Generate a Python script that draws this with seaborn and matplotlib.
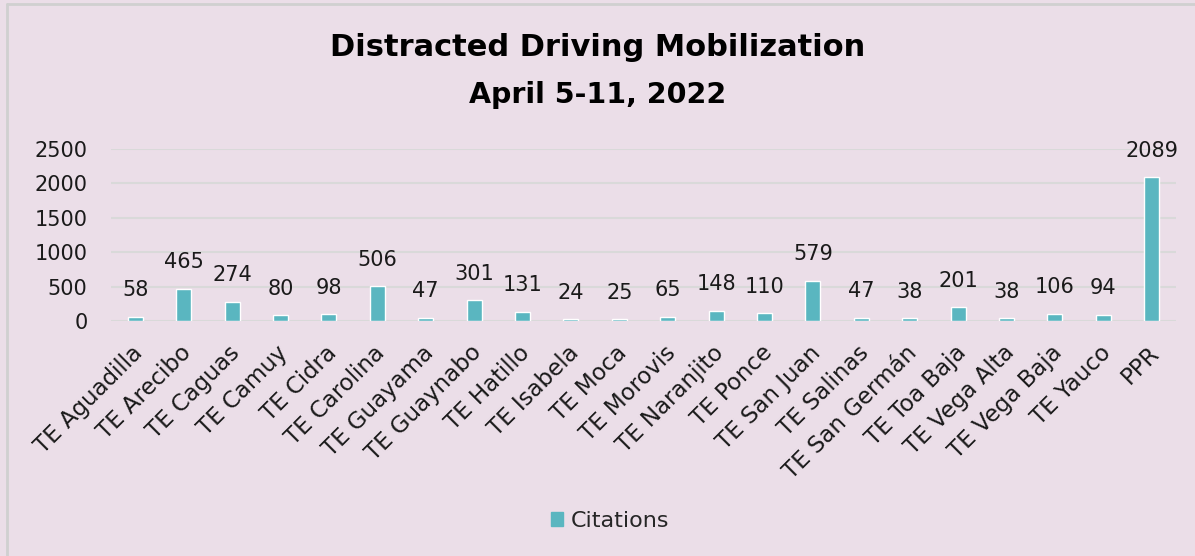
import matplotlib
matplotlib.use('Agg')
import matplotlib.pyplot as plt
import matplotlib.patches as mpatches
import matplotlib.transforms as mtrans
import pandas as pd
import seaborn as sns

# Citations per unit
units = ['TE Aguadilla', 'TE Arecibo', 'TE Caguas', 'TE Camuy', 'TE Cidra',
         'TE Carolina', 'TE Guayama', 'TE Guaynabo', 'TE Hatillo', 'TE Isabela',
         'TE Moca', 'TE Morovis', 'TE Naranjito', 'TE Ponce', 'TE San Juan',
         'TE Salinas', 'TE San Germán', 'TE Toa Baja', 'TE Vega Alta',
         'TE Vega Baja', 'TE Yauco', 'PPR']
citations = [58, 465, 274, 80, 98, 506, 47, 301, 131, 24, 25, 65, 148, 110,
             579, 47, 38, 201, 38, 106, 94, 2089]
y_ticks = [0, 500, 1000, 1500, 2000, 2500]

df = pd.DataFrame({'Unit': units, 'Citations': citations})

bg = '#EBDEE8'
bar_color = '#5AB6C0'
grid_color = '#D9D9D9'
txt = '#1a1a1a'

sns.set_theme(style='white')
plt.rcParams['font.family'] = ['DejaVu Sans']

fig = plt.figure(figsize=(11.95, 5.56), dpi=100, facecolor=bg)
ax = fig.add_axes([111 / 1195, 1 - 321 / 556, (1176 - 111) / 1195, (321 - 149) / 556])
ax.set_facecolor(bg)

sns.barplot(data=df, x='Unit', y='Citations', color=bar_color, width=0.31,
            saturation=1, ax=ax)

ax.bar_label(ax.containers[0], labels=[str(v) for v in citations],
             padding=12, fontsize=15, color=txt)

ax.set_ylim(0, 2500)
ax.set_yticks(y_ticks)
ax.set_yticklabels([str(t) for t in y_ticks], fontsize=15, color=txt)
ax.set_xlim(-0.5, len(units) - 0.5)
ax.set_xticks(range(len(units)))
ax.set_xticklabels(units, rotation=45, ha='right', rotation_mode='anchor',
                   fontsize=16.5, color=txt)
ax.tick_params(axis='both', length=0)
ax.tick_params(axis='y', pad=17)
ax.tick_params(axis='x', pad=8)
# nudge the category labels down/left like the original
shift = mtrans.ScaledTranslation(-4 / 100, -9 / 100, fig.dpi_scale_trans)
for lbl in ax.get_xticklabels():
    lbl.set_transform(lbl.get_transform() + shift)
ax.set_xlabel('')
ax.set_ylabel('')
for s in ax.spines.values():
    s.set_visible(False)
ax.yaxis.grid(True, color=grid_color, linewidth=1.5)
ax.set_axisbelow(True)

fig.text(0.5, 1 - 48 / 556, 'Distracted Driving Mobilization',
         ha='center', va='center', fontsize=22, fontweight='bold', color='black')
fig.text(0.5, 1 - 95 / 556, 'April 5-11, 2022',
         ha='center', va='center', fontsize=20.5, fontweight='bold', color='black')

handle = mpatches.Patch(color=bar_color, label='Citations')
fig.legend(handles=[handle], loc='center', bbox_to_anchor=(610 / 1195, 1 - 521 / 556),
           frameon=False, fontsize=16, handlelength=0.55, handleheight=0.55,
           handletextpad=0.35)

# light gray frame on top and left edges
fig.add_artist(plt.Line2D([7 / 1195, 1], [1 - 4 / 556, 1 - 4 / 556],
                          transform=fig.transFigure, color='#D0D0D0', linewidth=2))
fig.add_artist(plt.Line2D([7 / 1195, 7 / 1195], [0, 1 - 4 / 556],
                          transform=fig.transFigure, color='#D0D0D0', linewidth=2))

fig.savefig('out.png', dpi=100, facecolor=bg)
